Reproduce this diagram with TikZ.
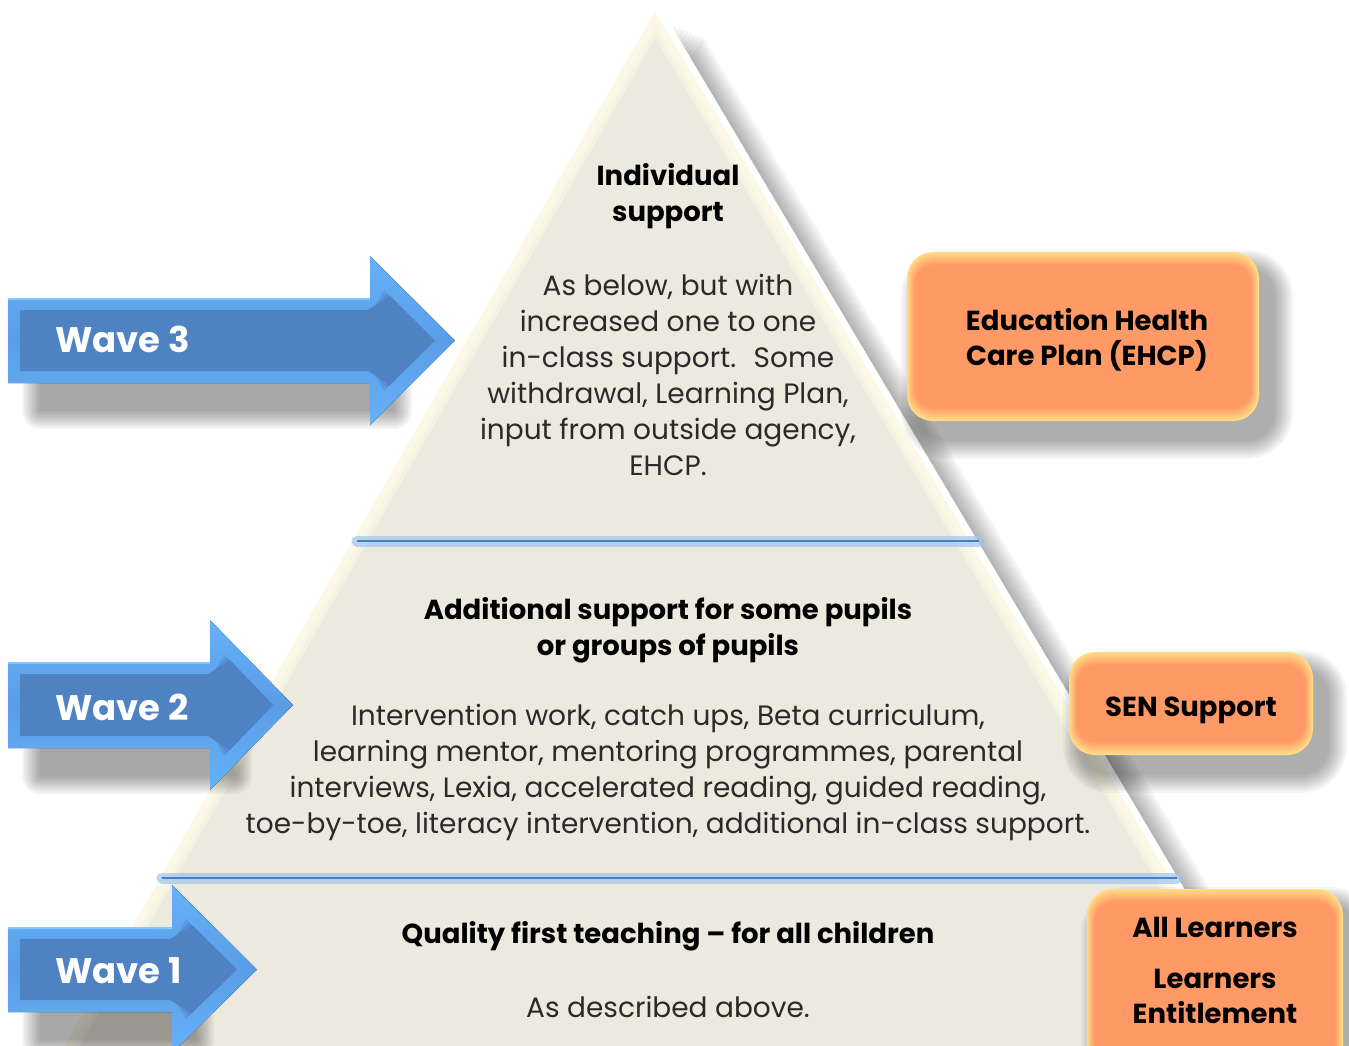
\documentclass[tikz,border=0pt]{standalone}
\usepackage{fontspec}
\setmainfont{Poppins}
\definecolor{pyrfill}{HTML}{ECE9DE}
\definecolor{pyredge}{HTML}{FFFDE9}
\definecolor{orng}{HTML}{FF9966}
\definecolor{glowy}{HTML}{FFDC86}
\definecolor{arrlight}{HTML}{66B2FA}
\definecolor{arrlight2}{HTML}{5A9DE6}
\definecolor{arrdark}{HTML}{4F82C2}
\definecolor{arrdark2}{HTML}{4C7DBB}
\definecolor{arrhi}{HTML}{7DCBFF}
\definecolor{sepline}{HTML}{4A7EC0}
\definecolor{sepglow}{HTML}{9EC5EE}
\definecolor{bodygray}{HTML}{2A2A2A}
\tikzset{
  wavetxt/.style={anchor=west,text=white,font=\bfseries\fontsize{35.5}{40}\selectfont,inner sep=0pt},
  headtxt/.style={align=center,font=\bfseries\fontsize{27.5}{36}\selectfont,text=black,inner sep=0pt},
  bodytxt/.style={align=center,font=\fontsize{28}{36}\selectfont,text=bodygray,inner sep=0pt},
  boxtxt/.style={align=center,font=\bfseries\fontsize{27.5}{35}\selectfont,text=black,inner sep=0pt},
  sepglowline/.style={line width=11pt,color=sepglow,opacity=0.7,line cap=round},
  sepmainline/.style={line width=2.2pt,color=sepline},
}
% orange rounded box with soft shadow: x0 y0 x1 y1
\newcommand\orangebox[4]{%
  \foreach \i in {0,...,9}{%
    \pgfmathsetmacro\dd{20-2*\i}%
    \pgfmathsetmacro\rr{26+\dd}%
    \fill[black,opacity=0.035,rounded corners=\rr pt] ({#1+14-\dd},{#2+18-\dd}) rectangle ({#3+14+\dd},{#4+18+\dd});
  }%
  \foreach \i in {0,...,9}{%
    \pgfmathsetmacro\dd{\i*1.4}%
    \pgfmathtruncatemacro\pc{\i*100/9}%
    \pgfmathsetmacro\rr{26-\dd*0.5}%
    \fill[orng!\pc!glowy,rounded corners=\rr pt] ({#1+\dd*0.6},{#2+\dd}) rectangle ({#3-\dd*0.6},{#4-\dd});
  }%
}
% blue arrow: shaft top, shaft bottom, head base x, tip x, head top, head bottom
\newcommand\wavearrow[6]{%
  \pgfmathsetmacro\arrmid{(#1+#2)/2}%
  \foreach \i in {0,...,9}{%
    \pgfmathsetmacro\dd{18-2*\i}%
    \fill[black,opacity=0.04,rounded corners=\dd pt] ({40-\dd},{#1+32-\dd}) rectangle ({#3+24+\dd},{#2+28+\dd});
  }%
  \fill[top color=arrlight,bottom color=arrlight,middle color=arrlight2] (8,#1) -- (#3,#1) -- (#3,#5) -- (#4,\arrmid) -- (#3,#6) -- (#3,#2) -- (8,#2) -- cycle;
  % soft bevel: nested inner polygons
  \foreach \k/\op in {0/0.35,1/0.5,2/1}{%
    \pgfmathsetmacro\ins{20-4*\k}%
    \fill[arrdark,opacity=\op] ({8+\ins},{#1+\ins}) -- ({#3-2},{#1+\ins}) -- ({#3+14+\k*3},{#5+34+\k*3}) -- ({#4-\ins-8},\arrmid) -- ({#3+14+\k*3},{#6-34-\k*3}) -- ({#3-2},{#2-\ins}) -- ({8+\ins},{#2-\ins}) -- cycle;
  }%
  \draw[arrhi,line width=1.5pt] (8,{#1+0.8}) -- (#3,{#1+0.8});
}
\begin{document}
\begin{tikzpicture}[x=1pt,y=-1pt]
\clip (0,0) rectangle (1349,1045);
\fill[white] (0,0) rectangle (1349,1045);

% pyramid shadow
\foreach \i in {1,...,11}{%
  \fill[black,opacity=0.04,shift={(4*\i+4,1.5*\i+8)}] (655,12) -- (1284,1070) -- (51,1070) -- cycle;
}
\coordinate (apex) at (655,12);
\coordinate (bl) at (51,1070);
\coordinate (br) at (1284,1070);
\draw[white,line width=14pt,line join=round] (apex) -- (br) -- (bl) -- cycle;
\fill[pyrfill] (apex) -- (br) -- (bl) -- cycle;
\begin{scope}
  \clip (apex) -- (br) -- (bl) -- cycle;
  \foreach \w in {26,18,11}{%
    \draw[pyredge,line width=\w pt,opacity=0.45,line join=round] (apex) -- (br) -- (bl) -- cycle;
  }
\end{scope}

% separators
\coordinate (s1a) at (357,541);
\coordinate (s1b) at (979,541);
\coordinate (s2a) at (162,878);
\coordinate (s2b) at (1177,878);
\draw[sepglowline] (s1a) -- (s1b);
\draw[sepmainline] (s1a) -- (s1b);
\draw[sepglowline] (s2a) -- (s2b);
\draw[sepmainline] (s2a) -- (s2b);

% pyramid texts
\node[headtxt] (indiv) at (668,196) {Individual\\support};
\node[bodytxt] (indivbody) at (668,375) {As below, but with\\increased one to one\\in-class support.~ Some\\withdrawal, Learning Plan,\\input from outside agency,\\EHCP.};
\node[headtxt] (addhead) at (668,630) {Additional support for some pupils\\or groups of pupils};
\node[bodytxt] (addbody) at (668,772) {Intervention work, catch ups, Beta curriculum,\\learning mentor, mentoring programmes, parental\\interviews, Lexia, accelerated reading, guided reading,\\toe-by-toe, literacy intervention, additional in-class support.};
\node[headtxt] (qfthead) at (668,936) {Quality first teaching – for all children};
\node[bodytxt] (qftbody) at (668,1007) {As described above.};

% arrows
\wavearrow{298}{383}{370}{455}{256}{425}
\node[wavetxt] (w3) at (55,339) {Wave 3};
\wavearrow{662}{748}{210}{293}{620}{790}
\node[wavetxt] (w2) at (55,707) {Wave 2};
\wavearrow{927}{1012}{172}{257}{885}{1053}
\node[wavetxt] (w1) at (55,971) {Wave 1};

% orange boxes
\orangebox{907}{252}{1259}{421}
\node[boxtxt] (ehcp) at (1087,340) {Education Health\\Care Plan (EHCP)};
\orangebox{1069}{652}{1313}{755}
\node[boxtxt] (sen) at (1191,710) {SEN Support};
\orangebox{1087}{889}{1343}{1075}
\node[boxtxt] (all) at (1215,970) {All Learners\\[16pt]Learners\\Entitlement};
\end{tikzpicture}
\end{document}
